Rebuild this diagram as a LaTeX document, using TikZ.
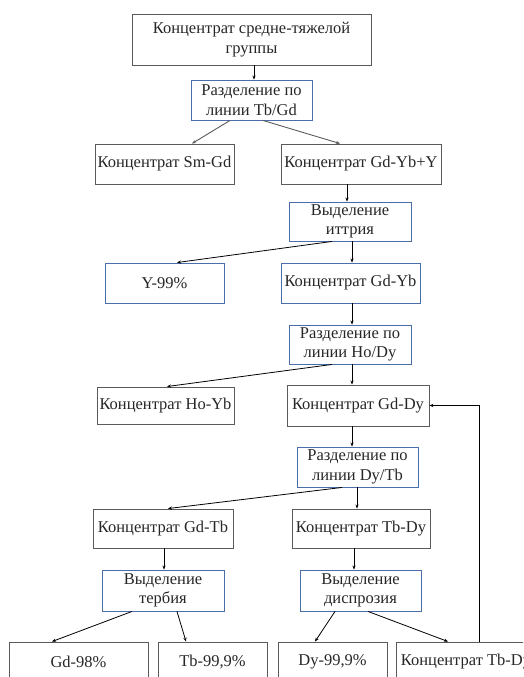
\documentclass[tikz,border=0pt]{standalone}
\usepackage{fontspec}
\setmainfont{Liberation Serif}
\usetikzlibrary{arrows.meta}
\definecolor{bordgray}{HTML}{5A5A5A}
\definecolor{bordblue}{HTML}{4A6EAA}
\begin{document}
\begin{tikzpicture}[x=1pt,y=-1pt,
  every node/.style={font=\fontsize{16.5}{19.5}\selectfont, align=center, inner sep=0pt, text=black!85},
  graybox/.style={draw=bordgray, line width=0.9pt, rectangle},
  bluebox/.style={draw=bordblue, line width=0.9pt, rectangle},
  arr/.style={draw=black, line width=0.8pt, -{Stealth[length=4pt,width=3.2pt]}},
  grayarr/.style={draw=bordgray, line width=0.9pt, -{Stealth[length=4pt,width=3.2pt]}}]
\useasboundingbox (0,0) rectangle (523,677);
\begin{scope}
\clip (0,0) rectangle (523,677);
\node[graybox, minimum width=239pt, minimum height=51pt] (b1) at (251.5,39.5) {Концентрат средне-тяжелой\\группы};
\node[bluebox, minimum width=121pt, minimum height=40pt] (b2) at (251.5,100) {Разделение по\\линии Tb/Gd};
\node[graybox, minimum width=139pt, minimum height=40pt] (smgd) at (164.5,164) {Концентрат Sm-Gd};
\node[graybox, minimum width=160pt, minimum height=40pt] (gdyby) at (361,164) {Концентрат Gd-Yb+Y};
\node[bluebox, minimum width=122pt, minimum height=39pt] (ytr) at (350,221.5) {Выделение\\иттрия};
\node[bluebox, minimum width=119pt, minimum height=40pt] (y99) at (164.5,283) {Y-99\%};
\node[bluebox, minimum width=139pt, minimum height=40pt] (gdyb) at (350.5,283) {Концентрат Gd-Yb};
\node[bluebox, minimum width=122pt, minimum height=39pt] (hody) at (350,344.5) {Разделение по\\линии Ho/Dy};
\node[graybox, minimum width=137pt, minimum height=37pt] (hoyb) at (165.5,405.5) {Концентрат Ho-Yb};
\node[graybox, minimum width=142pt, minimum height=41pt] (gddy) at (358,405.5) {Концентрат Gd-Dy};
\node[bluebox, minimum width=121pt, minimum height=40pt] (dytb) at (357.5,467) {Разделение по\\линии Dy/Tb};
\node[graybox, minimum width=140pt, minimum height=39pt] (gdtb) at (163,528.5) {Концентрат Gd-Tb};
\node[graybox, minimum width=138pt, minimum height=39pt] (tbdy) at (361,528.5) {Концентрат Tb-Dy};
\node[bluebox, minimum width=122pt, minimum height=41pt] (terb) at (163,590.5) {Выделение\\тербия};
\node[bluebox, minimum width=121pt, minimum height=41pt] (disp) at (360.5,590.5) {Выделение\\диспрозия};
\node[graybox, minimum width=139pt, minimum height=40pt] (gd98) at (78.5,662) {Gd-98\%};
\node[graybox, minimum width=109pt, minimum height=40pt] (tb999) at (212.5,662) {Tb-99,9\%};
\node[graybox, minimum width=109pt, minimum height=40pt] (dy999) at (332.5,662) {Dy-99,9\%};
\node[graybox, minimum width=140pt, minimum height=40pt] (tbdy2) at (466,662) {Концентрат Tb-Dy};

\draw[arr] ([xshift=2.5pt]b1.south) -- ([xshift=2.5pt]b2.north);
\draw[grayarr] ([xshift=-21.5pt]b2.south) -- ([xshift=27.5pt]smgd.north);
\draw[grayarr] ([xshift=11.5pt]b2.south) -- ([xshift=-21pt]gdyby.north);
\draw[arr] ([xshift=-14pt]gdyby.south) -- ([xshift=-3pt]ytr.north);
\draw[arr] ([xshift=2pt]ytr.south) -- ([xshift=1.5pt]gdyb.north);
\draw[arr] ([xshift=-18pt]ytr.south) -- ([xshift=12.5pt]y99.north);
\draw[arr] ([xshift=1.5pt]gdyb.south) -- ([xshift=2pt]hody.north);
\draw[arr] ([xshift=2pt]hody.south) -- ([xshift=-6pt]gddy.north);
\draw[arr] ([xshift=-18pt]hody.south) -- ([xshift=1.5pt]hoyb.north);
\draw[arr] ([xshift=-6pt]gddy.south) -- ([xshift=-5.5pt]dytb.north);
\draw[arr] ([xshift=-0.5pt]dytb.south) -- ([xshift=-4pt]tbdy.north);
\draw[arr] ([xshift=-15.5pt]dytb.south) -- ([xshift=5pt]gdtb.north);
\draw[arr] ([xshift=1pt]gdtb.south) -- ([xshift=1pt]terb.north);
\draw[arr] ([xshift=-7pt]tbdy.south) -- ([xshift=-6.5pt]disp.north);
\draw[arr] ([xshift=-31pt]terb.south) -- ([xshift=-26.5pt]gd98.north);
\draw[arr] ([xshift=14pt]terb.south) -- ([xshift=-26.5pt]tb999.north);
\draw[arr] ([xshift=-25.5pt]disp.south) -- ([xshift=-17.5pt]dy999.north);
\draw[arr] ([xshift=7.5pt]disp.south) -- ([xshift=-18pt]tbdy2.north);
\draw[arr] ([xshift=13pt]tbdy2.north) |- (gddy.east);
\end{scope}
\end{tikzpicture}
\end{document}
